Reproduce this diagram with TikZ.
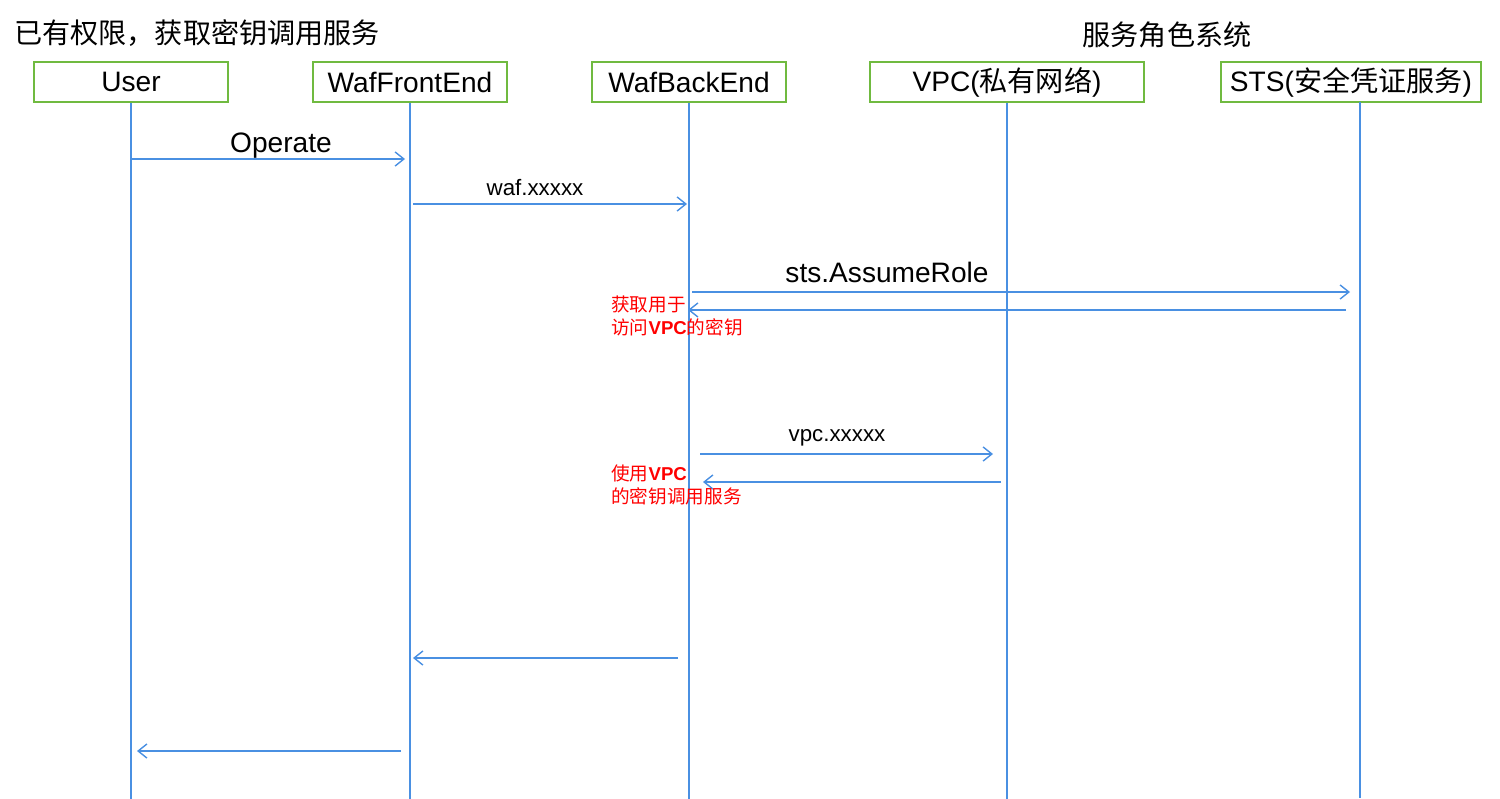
\documentclass[tikz,border=0pt]{standalone}
\usepackage{fontspec}
\setmainfont{Liberation Sans}
\newfontfamily\cjk{Noto Sans CJK SC}
\usepackage{xcolor}
\usetikzlibrary{arrows.meta, positioning}
\definecolor{lineblue}{RGB}{74,144,226}
\definecolor{boxgreen}{RGB}{112,186,64}
\tikzset{
  lane/.style={draw=boxgreen, line width=0.9pt, minimum height=0.8cm, inner sep=0pt, font=\fontsize{16}{18}\selectfont},
  life/.style={draw=lineblue, line width=0.8pt},
  msg/.style={draw=lineblue, line width=0.8pt, -{Straight Barb[length=5pt,width=8pt]}},
  biglabel/.style={font=\fontsize{16}{18}\selectfont},
  smalllabel/.style={font=\fontsize{12.7}{15}\selectfont},
  note/.style={text=red, align=left, anchor=north west, inner sep=0pt, font=\fontsize{10.6}{13.2}\selectfont}
}

\begin{document}
\begin{tikzpicture}[x=0.02cm, y=-0.02cm]
    \useasboundingbox (0,0) rectangle (1500,798);
    % titles
    \node[anchor=west, inner sep=0pt, font=\cjk\fontsize{16}{18}\selectfont] (title) at (14,33) {已有权限，获取密钥调用服务};
    \node[font=\cjk\fontsize{16}{18}\selectfont] (roles) at (1167,35) {服务角色系统};

    % participants
    \node[lane, minimum width=3.88cm] (user) at (131,82) {User};
    \node[lane, minimum width=3.88cm] (front) at (410,82) {WafFrontEnd};
    \node[lane, minimum width=3.88cm] (back) at (689,82) {WafBackEnd};
    \node[lane, minimum width=5.48cm] (vpc) at (1007,82) {VPC({\cjk 私有网络})};
    \node[lane, minimum width=5.2cm] (sts) at (1351,82) {STS({\cjk 安全凭证服务})};
    \coordinate (ststop) at (1360,102);

    % lifelines
    \draw[life] (user.south) -- ++(0,696);
    \draw[life] (front.south) -- ++(0,696);
    \draw[life] (back.south) -- ++(0,696);
    \draw[life] (vpc.south) -- ++(0,696);
    \draw[life] (ststop) -- ++(0,696);

    % message end points
    \coordinate (op-a) at (131,159);  \coordinate (op-b) at (405,159);
    \coordinate (waf-a) at (413,204); \coordinate (waf-b) at (687,204);
    \coordinate (sts-a) at (692,292); \coordinate (sts-b) at (1350,292);
    \coordinate (key-a) at (1346,310); \coordinate (key-b) at (688,310);
    \coordinate (vpc-a) at (700,454); \coordinate (vpc-b) at (993,454);
    \coordinate (res-a) at (1001,482); \coordinate (res-b) at (703,482);
    \coordinate (ret-a) at (678,658); \coordinate (ret-b) at (413,658);
    \coordinate (end-a) at (401,751); \coordinate (end-b) at (137,751);

    % messages
    \draw[msg] (op-a) -- (op-b);
    \draw[msg] (waf-a) -- (waf-b);
    \draw[msg] (sts-a) -- (sts-b);
    \draw[msg] (key-a) -- (key-b);
    \draw[msg] (vpc-a) -- (vpc-b);
    \draw[msg] (res-a) -- (res-b);
    \draw[msg] (ret-a) -- (ret-b);
    \draw[msg] (end-a) -- (end-b);

    % labels
    \node[biglabel] (operate) at (281,146) {Operate};
    \node[smalllabel] (wafcall) at (535,188) {waf.xxxxx};
    \node[biglabel] (assume) at (887,272) {sts.AssumeRole};
    \node[smalllabel] (vpccall) at (837,438) {vpc.xxxxx};
    \node[note] (keynote) at (611,295) {{\cjk 获取用于}\\{\cjk 访问}\textbf{VPC}{\cjk 的密钥}};
    \node[note] (usenote) at (611,464) {{\cjk 使用}\textbf{VPC}\\{\cjk 的密钥调用服务}};
\end{tikzpicture}
\end{document}
